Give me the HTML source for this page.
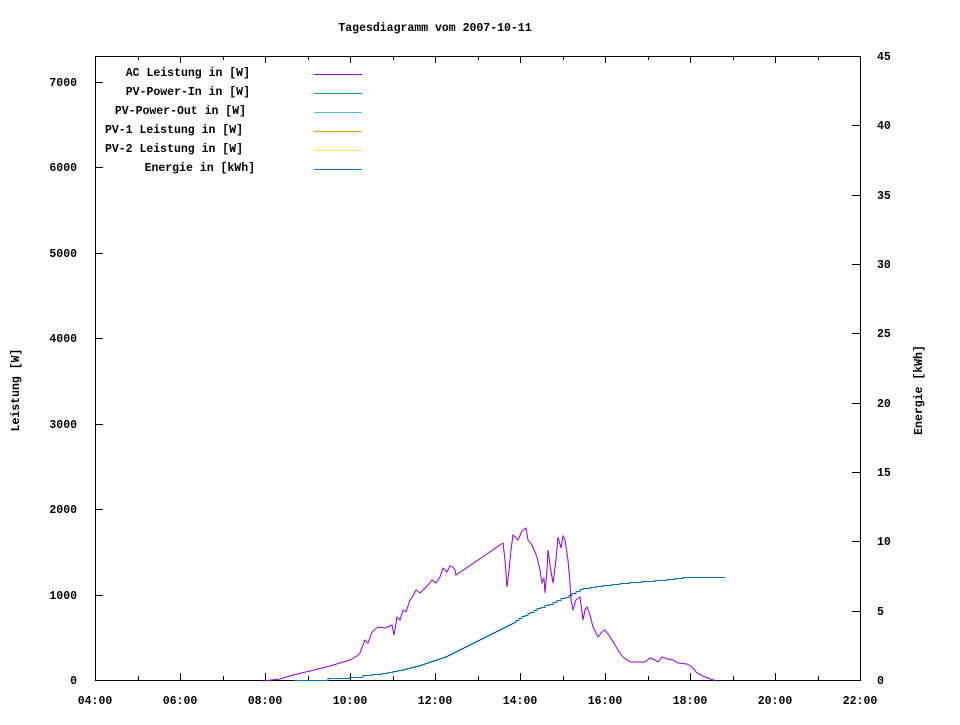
<!DOCTYPE html>
<html><head><meta charset="utf-8"><style>
body{margin:0;background:#fff}
svg text{font-family:"Liberation Mono",monospace;font-size:11.5px;font-weight:bold;fill:#000}
</style></head><body>
<svg width="960" height="720" viewBox="0 0 960 720" xmlns="http://www.w3.org/2000/svg">
<rect width="960" height="720" fill="#fff"/>
<text x="435" y="31" text-anchor="middle">Tagesdiagramm vom 2007-10-11</text>
<rect x="95.5" y="56.5" width="765" height="624" fill="none" stroke="#000" stroke-width="1"/>
<path stroke="#000" stroke-width="1" fill="none" d="
M95.5,680V673M95.5,56V63
M138.5,680V676M138.5,56V60
M180.5,680V673M180.5,56V63
M223.5,680V676M223.5,56V60
M265.5,680V673M265.5,56V63
M308.5,680V676M308.5,56V60
M350.5,680V673M350.5,56V63
M393.5,680V676M393.5,56V60
M435.5,680V673M435.5,56V63
M478.5,680V676M478.5,56V60
M520.5,680V673M520.5,56V63
M563.5,680V676M563.5,56V60
M605.5,680V673M605.5,56V63
M648.5,680V676M648.5,56V60
M690.5,680V673M690.5,56V63
M733.5,680V676M733.5,56V60
M775.5,680V673M775.5,56V63
M818.5,680V676M818.5,56V60
M95,595.5H103M95,509.5H103M95,424.5H103M95,338.5H103M95,253.5H103M95,167.5H103M95,82.5H103
M860,611.5H852M860,541.5H852M860,472.5H852M860,403.5H852M860,333.5H852M860,264.5H852M860,195.5H852M860,125.5H852"/>
<g text-anchor="middle">
<text x="95" y="704">04:00</text><text x="180" y="704">06:00</text><text x="265" y="704">08:00</text>
<text x="350" y="704">10:00</text><text x="435" y="704">12:00</text><text x="520" y="704">14:00</text>
<text x="605" y="704">16:00</text><text x="690" y="704">18:00</text><text x="775" y="704">20:00</text>
<text x="860" y="704">22:00</text>
</g>
<g text-anchor="end">
<text x="77" y="684">0</text><text x="77" y="599">1000</text><text x="77" y="513">2000</text>
<text x="77" y="428">3000</text><text x="77" y="342">4000</text><text x="77" y="257">5000</text>
<text x="77" y="171">6000</text><text x="77" y="86">7000</text>
</g>
<g text-anchor="start">
<text x="877" y="684">0</text><text x="877" y="615">5</text><text x="877" y="545">10</text>
<text x="877" y="476">15</text><text x="877" y="407">20</text><text x="877" y="337">25</text>
<text x="877" y="268">30</text><text x="877" y="199">35</text><text x="877" y="129">40</text>
<text x="877" y="60">45</text>
</g>
<text transform="translate(19,390) rotate(-90)" text-anchor="middle">Leistung [W]</text>
<text transform="translate(922,390) rotate(-90)" text-anchor="middle">Energie [kWh]</text>
<g text-anchor="end">
<text x="250" y="76">AC Leistung in [W]</text>
<text x="250" y="95">PV-Power-In in [W]</text>
<text x="246" y="114">PV-Power-Out in [W]</text>
<text x="243" y="133">PV-1 Leistung in [W]</text>
<text x="243" y="152">PV-2 Leistung in [W]</text>
<text x="255" y="171">Energie in [kWh]</text>
</g>
<g stroke-width="1">
<line x1="314" y1="74.5" x2="362" y2="74.5" stroke="#9400d3"/>
<line x1="314" y1="93.5" x2="362" y2="93.5" stroke="#009e73"/>
<line x1="314" y1="112.5" x2="362" y2="112.5" stroke="#56b4e9"/>
<line x1="314" y1="131.5" x2="362" y2="131.5" stroke="#e69f00"/>
<line x1="314" y1="150.5" x2="362" y2="150.5" stroke="#f0e442"/>
<line x1="314" y1="169.5" x2="362" y2="169.5" stroke="#0072b2"/>
</g>
<path fill="none" stroke="#0072b2" stroke-width="1" d="M294,680.5H328V678.5H350V677.5H363V675.5H372V674.5H382V673.5H388V672.5H393V671.5H398V670.5H403V669.5H407V668.5H411V667.5H415V666.5H419V665.5H422V664.5H425V663.5H428V662.5H431V661.5H434V660.5H437V659.5H440V658.5H443V657.5H446V656.5H448V655.5H450V654.5H452V653.5H454V652.5H456V651.5H458V650.5H460V649.5H462V648.5H464V647.5H466V646.5H468V645.5H470V644.5H472V643.5H474V642.5H476V641.5H478V640.5H480V639.5H482V638.5H484V637.5H486V636.5H488V635.5H490V634.5H492V633.5H494V632.5H496V631.5H498V630.5H500V629.5H502V628.5H504V627.5H506V626.5H508V625.5H510V624.5H512V623.5H514V622.5H516V620.5H519V618.5H522V616.5H525V615.5H528V613.5H531V612.5H534V610.5H537V608.5H541V607.5H545V605.5H549V604.5H553V602.5H557V600.5H561V598.5H565V597.5H569V595.5H572V593.5H576V591.5H580V589.5H583V588.5H590V587.5H596V586.5H603V585.5H612V584.5H620V583.5H630V582.5H642V581.5H655V580.5H667V579.5H675V578.5H683V577.5H725"/>
<polyline fill="none" stroke="#9400d3" stroke-width="1" points="263,681 280,679 293,675 310,671 330,666 350,660 357,656 360,653 363,645 365,640 368,643 372,632 378,627 385,628 392,625 394,635 397,617 400,620 403,610 406,612 410,600 413,596 416,590 420,593 423,590 428,585 432,580 436,583 440,577 443,568 447,572 450,566 453,567 455,570 456,575 503,543 505,560 507,587 509,570 511,550 513,535 518,540 522,531 526,528 528,540 532,545 535,552 537,557 540,570 542,583 544,578 545,593 547,570 548,550 550,565 553,583 556,560 558,537 561,548 563,536 565,540 568,560 570,583 571,600 573,610 576,600 580,597 582,612 583,620 585,610 587,607 590,615 593,627 596,633 598,637 602,632 605,630 608,634 612,640 618,650 623,657 630,662 645,662 650,658 655,660 658,662 662,657 668,659 673,660 678,663 687,664 692,667 697,673 703,676 710,679 717,681"/>
</svg>
</body></html>
